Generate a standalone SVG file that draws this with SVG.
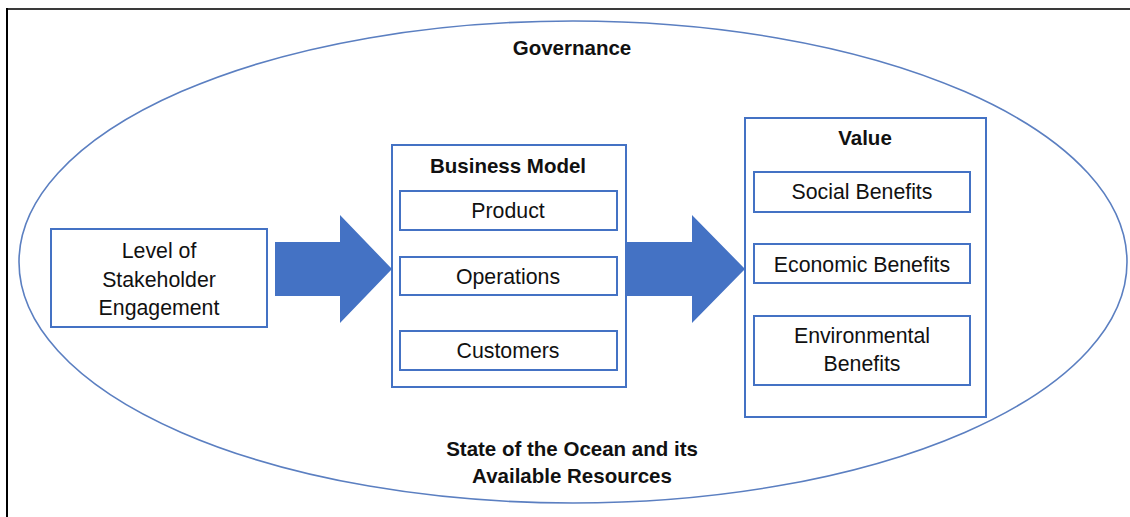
<svg xmlns="http://www.w3.org/2000/svg" width="1130" height="517" viewBox="0 0 1130 517">
  <style>
    .box { fill: #ffffff; stroke: #4472c4; stroke-width: 2; }
    .arrow { fill: #4472c4; stroke: none; }
    .t { font-family: "Liberation Sans", Arial, sans-serif; font-size: 21.3px; fill: #111111; text-anchor: middle; }
    .b { font-family: "Liberation Sans", Arial, sans-serif; font-size: 20.5px; font-weight: bold; fill: #111111; text-anchor: middle; }
  </style>
  <rect x="0" y="0" width="1130" height="517" fill="#ffffff"/>
  <line x1="7" y1="9" x2="1130" y2="9" stroke="#3a3a3a" stroke-width="2"/>
  <line x1="7" y1="8" x2="7" y2="517" stroke="#000000" stroke-width="2"/>

  <g id="ocean">
    <ellipse cx="573" cy="262" rx="554" ry="241" fill="none" stroke="#5b7fc1" stroke-width="1.6"/>
    <text class="b" x="572" y="55">Governance</text>
    <text class="b" x="572" y="456">State of the Ocean and its</text>
    <text class="b" x="572" y="483">Available Resources</text>
  </g>

  <g id="connectors">
    <polygon class="arrow" points="275,242 340,242 340,215 392,269 340,323 340,296 275,296"/>
    <polygon class="arrow" points="627,242 692,242 692,215 745,269 692,323 692,296 627,296"/>
  </g>

  <g id="stakeholder">
    <rect class="box" x="51" y="229" width="216" height="98"/>
    <text class="t" x="159" y="258">Level of</text>
    <text class="t" x="159" y="287">Stakeholder</text>
    <text class="t" x="159" y="315">Engagement</text>
  </g>

  <g id="business-model">
    <rect class="box" x="392" y="145" width="234" height="242"/>
    <text class="b" x="508" y="173">Business Model</text>
    <g id="product">
      <rect class="box" x="400" y="191" width="217" height="39"/>
      <text class="t" x="508" y="218">Product</text>
    </g>
    <g id="operations">
      <rect class="box" x="400" y="257" width="217" height="38"/>
      <text class="t" x="508" y="284">Operations</text>
    </g>
    <g id="customers">
      <rect class="box" x="400" y="331" width="217" height="39"/>
      <text class="t" x="508" y="358">Customers</text>
    </g>
  </g>

  <g id="value">
    <rect class="box" x="745" y="118" width="241" height="299"/>
    <text class="b" x="865" y="145">Value</text>
    <g id="social">
      <rect class="box" x="754" y="172" width="216" height="40"/>
      <text class="t" x="862" y="199">Social Benefits</text>
    </g>
    <g id="economic">
      <rect class="box" x="754" y="244" width="216" height="39"/>
      <text class="t" x="862" y="272">Economic Benefits</text>
    </g>
    <g id="environmental">
      <rect class="box" x="754" y="316" width="216" height="69"/>
      <text class="t" x="862" y="343">Environmental</text>
      <text class="t" x="862" y="371">Benefits</text>
    </g>
  </g>
</svg>
